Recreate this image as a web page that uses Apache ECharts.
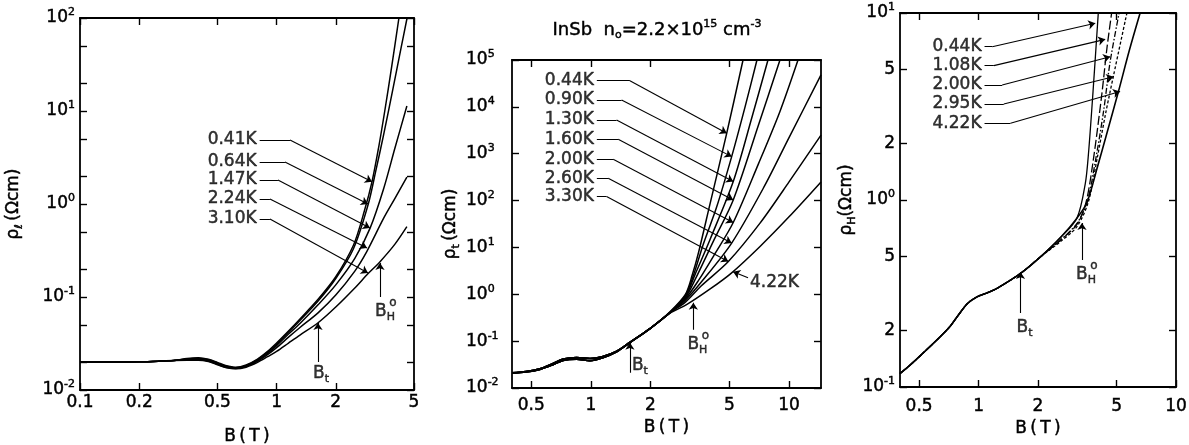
<!DOCTYPE html>
<html><head><meta charset="utf-8">
<script src="https://cdn.jsdelivr.net/npm/echarts@6/dist/echarts.min.js"></script>
<style>html,body{margin:0;padding:0;background:#fff}#c{width:1189px;height:445px}</style>
</head><body><div id="c"></div><script>
// ---------------- DATA ----------------
// Panel 1: rho_l vs B
const p1XTicks = [0.1, 0.2, 0.5, 1, 2, 5];
const p1YTicks = [0.01,0.02,0.05,0.1,0.2,0.5,1,2,5,10,20,50,100];
const p1YLabels = [0.01, 0.1, 1, 10, 100];
const p1Low = [[0.1,0.0200],[0.15,0.0200],[0.2,0.0201],[0.25,0.0204],[0.3,0.0208]];
const p1_041 = [[0.35,0.0218],[0.4,0.0222],[0.45,0.0214],[0.5,0.0198],[0.55,0.0184],[0.62,0.0176],[0.7,0.0186],[0.8,0.0215],[0.9,0.026],[1.0,0.032],[1.15,0.043],[1.315,0.058],[1.63,0.095],[2.0,0.165],[2.46,0.36],[2.8,0.85],[3.06,1.75],[3.3,4.0],[3.55,10],[3.85,30],[4.19,100]];
const p1_064 = [[0.35,0.0216],[0.4,0.0219],[0.45,0.0211],[0.5,0.0195],[0.55,0.0181],[0.62,0.0174],[0.7,0.0183],[0.8,0.0212],[0.9,0.0255],[1.0,0.031],[1.15,0.042],[1.315,0.056],[1.63,0.091],[2.0,0.158],[2.46,0.33],[2.92,0.98],[3.2,2.3],[3.5,5.5],[3.9,17],[4.3,48],[4.61,100]];
const p1_147 = [[0.35,0.0213],[0.4,0.0215],[0.45,0.0207],[0.5,0.0191],[0.55,0.0178],[0.62,0.0172],[0.7,0.0181],[0.8,0.0208],[0.9,0.0248],[1.0,0.030],[1.15,0.040],[1.315,0.052],[1.63,0.083],[2.0,0.135],[2.5,0.26],[2.99,0.55],[3.5,1.45],[4.0,4.0],[4.6,11.3]];
const p1_224 = [[0.35,0.0211],[0.4,0.0212],[0.45,0.0205],[0.5,0.0189],[0.55,0.0176],[0.62,0.0170],[0.7,0.0179],[0.8,0.0204],[0.9,0.0240],[1.0,0.0285],[1.15,0.037],[1.315,0.047],[1.63,0.068],[2.0,0.105],[2.5,0.19],[2.88,0.31],[3.5,0.70],[4.0,1.15],[4.6,1.95]];
const p1_310 = [[0.35,0.0209],[0.4,0.0209],[0.45,0.0202],[0.5,0.0187],[0.55,0.0175],[0.62,0.0169],[0.7,0.0176],[0.8,0.0198],[0.9,0.0228],[1.0,0.026],[1.15,0.032],[1.315,0.039],[1.62,0.0525],[2.0,0.078],[2.5,0.125],[2.93,0.18],[3.36,0.24],[4.0,0.37],[4.6,0.57]];
const p1Names = ['0.41K','0.64K','1.47K','2.24K','3.10K'];
const p1Callouts = [
  [[0.82,4.88],[1.17,4.88],[3.057,1.73]],
  [[0.82,2.83],[1.103,2.83],[2.917,1.0]],
  [[0.82,1.81],[1.016,1.81],[2.985,0.552]],
  [[0.82,1.13],[0.925,1.13],[2.883,0.336]],
  [[0.82,0.690],[0.925,0.690],[2.917,0.181]]
];
const p1Bt = [[1.624,0.020],[1.624,0.0525]];
const p1BH = [[3.357,0.100],[3.357,0.232]];

// Panel 2: rho_t vs B (low-field band: upper and lower edge)
const p2XTicks = [0.5, 1, 2, 5, 10];
const p2YTicks = [0.01,0.1,1,10,100,1000,10000,100000];
const p2TrunkUp = [[0.4,0.0211],[0.47,0.0225],[0.553,0.0259],[0.64,0.033],[0.725,0.0415],[0.847,0.0448],[0.99,0.0428],[1.15,0.0472],[1.35,0.061],[1.57,0.094],[2.0,0.19]];
const p2TrunkLo = [[0.4,0.0207],[0.47,0.0219],[0.553,0.0249],[0.64,0.031],[0.725,0.0388],[0.847,0.0412],[0.99,0.0383],[1.15,0.0442],[1.35,0.059],[1.57,0.092],[2.0,0.188]];
const p2_044 = [[2.5,0.42],[3.0,1.0],[3.25,2.6],[3.5,8],[3.98,80],[4.85,2740],[5.86,100000]];
const p2_090 = [[2.5,0.41],[3.0,0.95],[3.3,2.6],[3.7,12],[4.3,70],[5.135,867],[6.0,10000],[6.89,100000]];
const p2_130 = [[2.5,0.40],[3.0,0.9],[3.35,2.6],[4.0,15],[5.23,254],[6.5,6000],[7.83,100000]];
const p2_160 = [[2.5,0.40],[3.0,0.85],[3.4,2.3],[4.2,15],[5.23,103],[7.0,4000],[9.0,100000]];
const p2_200 = [[2.5,0.40],[3.0,0.8],[3.5,2.0],[4.2,7],[5.23,34],[7.0,600],[9.0,8000],[11.1,100000]];
const p2_260 = [[2.5,0.40],[3.0,0.75],[3.6,1.8],[5.135,12.4],[7.5,200],[10,2200],[14.5,48000]];
const p2_330 = [[2.5,0.40],[3.0,0.68],[3.6,1.5],[4.94,5.0],[7.14,33],[10,250],[14.5,2500]];
const p2_422 = [[2.5,0.39],[3.04,0.6],[4.0,1.3],[5.1,2.8],[7.14,10.5],[10,45],[14.5,250]];
const p2Names = ['0.44K','0.90K','1.30K','1.60K','2.00K','2.60K','3.30K'];
const p2Callouts = [
  [[1.072,36200],[1.574,36200],[4.85,2740]],
  [[1.072,14000],[1.429,14000],[5.135,867]],
  [[1.072,5260],[1.348,5260],[5.23,254]],
  [[1.072,2040],[1.374,2040],[5.23,103]],
  [[1.072,764],[1.296,764],[5.23,34]],
  [[1.072,300],[1.223,300],[5.135,12.4]],
  [[1.072,122],[1.200,122],[4.94,5.0]]
];
const p2Last = [[6.21,2.25],[5.22,3.02]];
const p2Bt = [[1.574,0.0212],[1.574,0.0925]];
const p2BH = [[3.29,0.175],[3.29,0.659]];

// Panel 3: rho_H vs B
const p3XTicks = [0.5, 1, 2, 5, 10];
const p3YTicks = [0.1,0.2,0.5,1,2,5,10];
const p3Trunk = [[0.4,0.118],[0.45,0.131],[0.51,0.148],[0.64,0.186],[0.72,0.212],[0.78,0.238],[0.88,0.28],[0.985,0.304],[1.1,0.318],[1.24,0.337],[1.63,0.405],[2.06,0.497]];
const p3_044 = [[2.6,0.63],[3.15,0.80],[3.47,1.22],[3.6,1.75],[3.8,3.8],[4.04,10]];
const p3_108 = [[2.6,0.61],[3.15,0.74],[3.5,0.97],[3.8,1.6],[4.2,3.6],[4.47,6.5],[4.72,10]];
const p3_200 = [[2.6,0.61],[3.15,0.75],[3.55,0.98],[3.9,1.6],[4.3,3.0],[4.64,5.5],[5.15,10]];
const p3_295 = [[2.6,0.60],[3.15,0.72],[3.6,0.98],[4.0,1.7],[4.4,2.9],[4.82,4.6],[5.64,10]];
const p3_422 = [[2.6,0.63],[3.15,0.80],[3.54,0.97],[4.0,1.5],[4.47,2.28],[5.11,3.8],[5.8,6.3],[6.58,10]];
const p3Names = ['0.44K','1.08K','2.00K','2.95K','4.22K'];
const p3Callouts = [
  [[1.072,6.6],[1.173,6.6],[3.90,8.81]],
  [[1.072,5.23],[1.195,5.23],[4.38,7.23]],
  [[1.072,4.12],[1.317,4.12],[4.64,5.84]],
  [[1.072,3.26],[1.342,3.26],[4.82,4.56]],
  [[1.072,2.57],[1.451,2.57],[5.21,3.80]]
];
const p3Bt = [[1.63,0.249],[1.63,0.412]];
const p3BH = [[3.34,0.478],[3.34,0.753]];

// ---------------- CHART ----------------
const FONT = 'DejaVu Sans';
const INK = '#000000';
const FS = 17;
const BW = 0.45; // slight stroke to match the heavier lettering
const tx = (size, extra) => Object.assign({ fontSize: size, fontFamily: FONT, color: INK, textBorderColor: INK, textBorderWidth: BW }, extra || {});
const rich = {
  e: tx(11, { verticalAlign: 'top', lineHeight: 12 }),
  s: tx(11, { verticalAlign: 'bottom', lineHeight: 12 }),
  b: tx(FS, { lineHeight: 22 })
};
// zrender-native rich styles for the graphic title
const zt = (size, extra) => Object.assign({ fontSize: size, fontFamily: FONT, fill: INK, stroke: INK, lineWidth: BW }, extra || {});
const titleRich = {
  t: zt(18, { lineHeight: 22 }),
  e: zt(11, { verticalAlign: 'top', lineHeight: 12 }),
  s: zt(11, { verticalAlign: 'bottom', lineHeight: 12 })
};
function fmtNum(v) { return String(parseFloat(Number(v).toPrecision(6))); }
function fmtPow(v) {
  const e = Math.round(Math.log10(v));
  const p = Math.pow(10, e);
  if (Math.abs(v - p) / p < 1e-6) return '{b|10}{e|' + (e < 0 ? '-' + (-e) : e) + '}';
  return '{b|' + Math.round(v / Math.pow(10, Math.floor(Math.log10(v) + 1e-9))) + '}';
}
const tickStyle = { show: true, inside: true, length: 7, lineStyle: { color: INK, width: 1.4 } };
const lineAx = { show: true, lineStyle: { color: INK, width: 1.8 } };

function xPair(grid, min, max, ticks, margin, nameGap) {
  return [
    { type: 'log', logBase: 10, gridIndex: grid, min, max, position: 'bottom',
      axisLine: lineAx, axisTick: Object.assign({ customValues: ticks }, tickStyle),
      axisLabel: tx(FS, { customValues: ticks, formatter: fmtNum, margin }),
      splitLine: { show: false },
      name: 'B\u2009(\u2009T\u2009)', nameLocation: 'middle', nameGap,
      nameTextStyle: tx(FS, { verticalAlign: 'top' }) },
    { type: 'log', logBase: 10, gridIndex: grid, min, max, position: 'top',
      axisLine: lineAx, axisTick: Object.assign({ customValues: ticks }, tickStyle),
      axisLabel: { show: false }, splitLine: { show: false } }
  ];
}
function yPair(grid, min, max, ticks, labels, labelOpt, name, nameGap) {
  return [
    { type: 'log', logBase: 10, gridIndex: grid, min, max, position: 'left',
      axisLine: lineAx, axisTick: Object.assign({ customValues: ticks }, tickStyle),
      axisLabel: tx(FS, Object.assign({ customValues: labels, formatter: fmtPow, rich }, labelOpt)),
      splitLine: { show: false },
      name, nameLocation: 'middle', nameGap, nameRotate: 90,
      nameTextStyle: tx(FS, { rich }) },
    { type: 'log', logBase: 10, gridIndex: grid, min, max, position: 'right',
      axisLine: lineAx, axisTick: Object.assign({ customValues: ticks }, tickStyle),
      axisLabel: { show: false }, splitLine: { show: false } }
  ];
}

function curve(g, data, style) {
  return { type: 'line', xAxisIndex: g * 2, yAxisIndex: g * 2, data, symbol: 'none', showSymbol: false,
    smooth: 0.3, clip: true, silent: true, z: 3,
    lineStyle: Object.assign({ color: INK, width: 1.5 }, style || {}) };
}
// straight segments; the last segment of each path carries the arrowhead
function arrows(g, paths) {
  const plain = [], headed = [];
  paths.forEach(p => {
    for (let i = 0; i < p.length - 2; i++) plain.push({ coords: [p[i], p[i + 1]] });
    headed.push({ coords: [p[p.length - 2], p[p.length - 1]] });
  });
  const base = { type: 'lines', coordinateSystem: 'cartesian2d', xAxisIndex: g * 2, yAxisIndex: g * 2,
    silent: true, z: 4, lineStyle: { color: INK, width: 1.1, opacity: 1 } };
  return [
    Object.assign({}, base, { symbol: 'none', data: plain }),
    Object.assign({}, base, { symbol: ['none', 'arrow'], symbolSize: [1, 7], data: headed })
  ];
}
function texts(g, items) {
  return { type: 'scatter', xAxisIndex: g * 2, yAxisIndex: g * 2, symbolSize: 0, silent: true, z: 5,
    data: items.map(it => ({ value: it.at, label: tx(FS, Object.assign({ show: true, formatter: it.text, rich }, it.opt)) })) };
}
function calloutLabels(names, paths) {
  return names.map((n, i) => ({ at: paths[i][0], text: n, opt: { position: 'left', distance: 3 } }));
}
function bLabels(bt, bh, btOpt, bhOpt) {
  return [
    { at: bt[0], text: '{b|B}{s|t}', opt: btOpt },
    { at: bh[0], text: '{b|B}{s|H}', opt: bhOpt },
    { at: bh[0], text: 'o', opt: Object.assign({}, bhOpt, { fontSize: 12, offset: [bhOpt.offset[0] + 8, bhOpt.offset[1] - 4] }) }
  ];
}

const chart = echarts.init(document.getElementById('c'), null, { renderer: 'canvas' });
const option = {
  animation: false,
  backgroundColor: '#ffffff',
  grid: [
    { left: 80, top: 18, width: 334, height: 372, outerBoundsMode: 'none' },
    { left: 512, top: 60, width: 309, height: 328, outerBoundsMode: 'none' },
    { left: 900, top: 13, width: 276, height: 374, outerBoundsMode: 'none' }
  ],
  xAxis: [].concat(
    xPair(0, 0.1, 5, p1XTicks, 4, 38),
    xPair(1, 0.4, 14.5, p2XTicks, 9, 30),
    xPair(2, 0.4, 10, p3XTicks, 11, 23)
  ),
  yAxis: [].concat(
    yPair(0, 0.01, 100, p1YTicks, p1YLabels, { margin: 5 }, '{b|ρ}{s|ℓ}{b|\u2009(Ωcm)}', 55),
    yPair(1, 0.01, 100000, p2YTicks, p2YTicks, { margin: 46, align: 'left' }, '{b|ρ}{s|t}{b|\u2009(Ωcm)}', 50),
    yPair(2, 0.1, 10, p3YTicks, p3YTicks, { margin: 5 }, '{b|ρ}{s|H}{b|(Ωcm)}', 23)
  ),
  graphic: [{
    type: 'text', x: 657, y: 30, silent: true,
    style: { text: '{t|InSb  n}{s|o}{t|=2.2×10}{e|15}{t| cm}{e|-3}', align: 'center', verticalAlign: 'middle', rich: titleRich, fill: INK }
  }],
  series: [].concat(
    curve(0, p1Low.concat(p1_041)), curve(0, p1Low.concat(p1_064)), curve(0, p1Low.concat(p1_147)),
    curve(0, p1Low.concat(p1_224)), curve(0, p1Low.concat(p1_310)),
    arrows(0, p1Callouts.concat([p1Bt, p1BH])),
    texts(0, calloutLabels(p1Names, p1Callouts).concat(bLabels(p1Bt, p1BH,
      { position: 'bottom', distance: 1, offset: [3, 0] }, { position: 'bottom', distance: 4, offset: [5, 0] }))),

    curve(1, p2TrunkUp.concat(p2_044)), curve(1, p2TrunkUp.concat(p2_090)), curve(1, p2TrunkUp.concat(p2_130)),
    curve(1, p2TrunkUp.concat(p2_160)), curve(1, p2TrunkLo.concat(p2_200)), curve(1, p2TrunkLo.concat(p2_260)),
    curve(1, p2TrunkLo.concat(p2_330)), curve(1, p2TrunkLo.concat(p2_422)),
    arrows(1, p2Callouts.concat([p2Last, p2Bt, p2BH])),
    texts(1, calloutLabels(p2Names, p2Callouts).concat(
      [{ at: p2Last[0], text: '4.22K', opt: { position: 'right', distance: 2, offset: [0, 5] } }],
      bLabels(p2Bt, p2BH, { position: 'right', distance: 2, offset: [0, -7] }, { position: 'bottom', distance: 4, offset: [4, 0] }))),

    curve(2, p3Trunk.concat(p3_044), { width: 1.3 }),
    curve(2, p3Trunk.concat(p3_108), { width: 1.3, type: [9, 3] }),
    curve(2, p3Trunk.concat(p3_200), { width: 1.3, type: [6, 2, 1.5, 2] }),
    curve(2, p3Trunk.concat(p3_295), { width: 1.3, type: [3, 2] }),
    curve(2, p3Trunk.concat(p3_422), { width: 1.6 }),
    arrows(2, p3Callouts.concat([p3Bt, p3BH])),
    texts(2, calloutLabels(p3Names, p3Callouts).concat(bLabels(p3Bt, p3BH,
      { position: 'bottom', distance: 4, offset: [4, 0] }, { position: 'bottom', distance: 4, offset: [4, 0] })))
  )
};
chart.setOption(option);
</script></body></html>
